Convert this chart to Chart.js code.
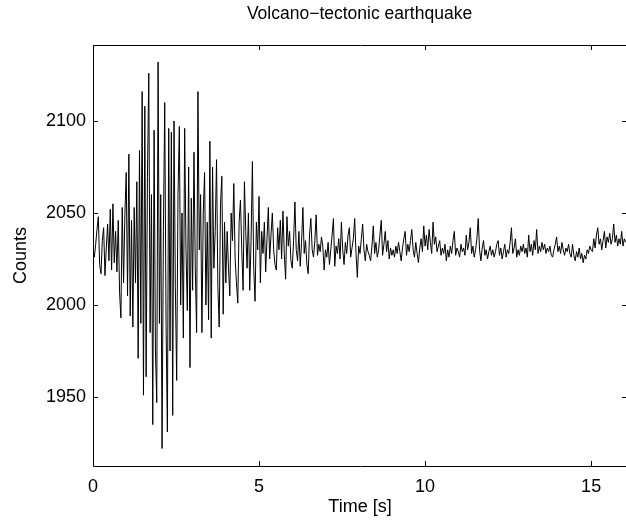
<!DOCTYPE html>
<html>
<head>
<meta charset="utf-8">
<script src="https://cdn.jsdelivr.net/npm/chart.js@4.4.1/dist/chart.umd.min.js"></script>
<style>
html, body { margin: 0; padding: 0; background: #fff; overflow: hidden; }
#wrap { position: relative; width: 627px; height: 520px; }
</style>
</head>
<body>
<div id="wrap"><canvas id="quakeChart"></canvas></div>
<script>
const titleText = 'Volcano\u2212tectonic earthquake'
const xLabel = 'Time [s]'
const yLabel = 'Counts'
const sampleRate = 25 // samples per second, first sample at t = 0

// counts, one row per second
const counts = [
  2030, 2026, 2033, 2041, 2048, 2022, 2017, 2035, 2042, 2016, 2031, 2044, 2024, 2052, 2019, 2055, 2023, 2040, 2018, 2046, 2007, 1993, 2053, 2012, 2049,
  2072, 2005, 2082, 1994, 2046, 1988, 2053, 2012, 2067, 1971, 2084, 1990, 2116, 1951, 2108, 1961, 2070, 2126, 1985, 2060, 1935, 2095, 1975, 1947, 2132, 1990,
  2060, 1922, 2040, 2110, 1990, 1931, 2096, 1975, 2094, 1940, 2100, 2010, 1959, 2060, 2097, 2000, 2050, 1982, 2096, 2030, 1997, 2075, 1966, 2058, 2008,
  2083, 2020, 1985, 2116, 2030, 2060, 1985, 2050, 2072, 2000, 2045, 1992, 2089, 1982, 2075, 2020, 2040, 2079, 2010, 1988, 2055, 2070, 1995, 2045, 2012,
  2040, 2020, 2005, 2050, 2035, 2066, 2025, 2012, 2001, 2045, 2057, 2030, 2008, 2067, 2040, 2020, 2050, 2008, 2035, 2078, 2020, 2002, 2045, 2030, 2059,
  2012, 2040, 2028, 2045, 2018, 2036, 2053, 2025, 2038, 2050, 2030, 2022, 2019, 2042, 2030, 2046, 2025, 2051, 2028, 2014, 2048, 2032, 2040, 2024, 2020,
  2035, 2056, 2030, 2024, 2040, 2021, 2034, 2053, 2028, 2035, 2022, 2017, 2038, 2047, 2030, 2026, 2035, 2049, 2027, 2033, 2029, 2037, 2032, 2019, 2030,
  2026, 2034, 2022, 2030, 2038, 2047, 2021, 2032, 2028, 2036, 2025, 2045, 2030, 2022, 2034, 2028, 2038, 2042, 2026, 2031, 2036, 2047, 2028, 2015, 2032,
  2028, 2036, 2044, 2030, 2024, 2033, 2029, 2027, 2024, 2032, 2043, 2028, 2034, 2026, 2030, 2038, 2046, 2027, 2033, 2040, 2029, 2035, 2025, 2031, 2027,
  2030, 2026, 2032, 2028, 2034, 2029, 2024, 2031, 2036, 2040, 2027, 2033, 2029, 2035, 2041, 2030, 2026, 2034, 2028, 2023, 2031, 2036, 2029, 2043, 2032,
  2038, 2030, 2041, 2034, 2028, 2045, 2033, 2037, 2029, 2032, 2035, 2027, 2031, 2028, 2033, 2024, 2030, 2026, 2032, 2028, 2035, 2040, 2027, 2031, 2029,
  2026, 2033, 2029, 2031, 2027, 2038, 2030, 2034, 2042, 2028, 2032, 2026, 2030, 2036, 2047, 2030, 2024, 2031, 2035, 2027, 2030, 2025, 2029, 2032, 2027,
  2030, 2026, 2029, 2033, 2035, 2027, 2031, 2025, 2029, 2033, 2026, 2030, 2028, 2034, 2042, 2028, 2031, 2036, 2026, 2030, 2027, 2032, 2029, 2033, 2028,
  2031, 2026, 2038, 2029, 2033, 2027, 2035, 2030, 2041, 2028, 2032, 2029, 2034, 2030, 2033, 2028, 2031, 2029, 2032, 2027, 2026, 2030, 2033, 2037, 2029,
  2032, 2028, 2034, 2030, 2027, 2031, 2029, 2033, 2028, 2026, 2033, 2027, 2024, 2029, 2026, 2031, 2025, 2028, 2023, 2027, 2025, 2030, 2028, 2032, 2030,
  2029, 2036, 2031, 2038, 2042, 2033, 2036, 2030, 2035, 2040, 2031, 2037, 2034, 2039, 2033, 2036, 2044, 2034, 2038, 2032, 2036, 2033, 2040, 2032, 2036,
  2034
]

const xTicks = [0, 5, 10, 15]
const yTicks = [1950, 2000, 2050, 2100]
const xRange = [0, 16.08]
const yRange = [1912.5, 2141.3]

const points = counts.map((c, i) => ({ x: i / sampleRate, y: c }))

const fontFamily = '"Liberation Sans", Arial, Helvetica, sans-serif'

// MATLAB style box with inward ticks, plus the title over the axes
const axesBox = {
  id: 'axesBox',
  afterDraw(chart) {
    const { ctx, chartArea: a, scales } = chart
    const len = 5
    ctx.save()
    ctx.strokeStyle = '#000'
    ctx.lineWidth = 1
    ctx.beginPath()
    ctx.rect(Math.round(a.left) + 0.5, Math.round(a.top) + 0.5, Math.round(a.right - a.left), Math.round(a.bottom - a.top))
    xTicks.forEach(v => {
      const px = Math.round(scales.x.getPixelForValue(v)) + 0.5
      ctx.moveTo(px, a.bottom); ctx.lineTo(px, a.bottom - len)
      ctx.moveTo(px, a.top); ctx.lineTo(px, a.top + len)
    })
    yTicks.forEach(v => {
      const py = Math.round(scales.y.getPixelForValue(v)) + 0.5
      ctx.moveTo(a.left, py); ctx.lineTo(a.left + len, py)
      ctx.moveTo(a.right, py); ctx.lineTo(a.right - len, py)
    })
    ctx.stroke()

    ctx.fillStyle = '#000'
    ctx.font = '17.5px ' + fontFamily
    ctx.textAlign = 'center'
    ctx.textBaseline = 'middle'
    ctx.fillText(titleText, (a.left + 626) / 2, 14)
    ctx.restore()
  }
}

new Chart(document.getElementById('quakeChart'), {
  type: 'line',
  data: {
    datasets: [{
      data: points,
      borderColor: '#000',
      borderWidth: 1,
      pointRadius: 0,
      tension: 0,
      fill: false
    }]
  },
  options: {
    responsive: true,
    maintainAspectRatio: false,
    animation: false,
    events: [],
    layout: { padding: { top: 45, right: 0, left: 0, bottom: 0 } },
    plugins: { legend: { display: false }, tooltip: { enabled: false }, title: { display: false } },
    scales: {
      x: {
        type: 'linear',
        min: xRange[0],
        max: xRange[1],
        afterBuildTicks: s => { s.ticks = xTicks.map(v => ({ value: v })) },
        afterFit: s => { s.height = 54 },
        grid: { display: false, drawTicks: false },
        border: { display: false },
        ticks: { color: '#000', font: { family: fontFamily, size: 18 }, padding: 10, maxRotation: 0, callback: v => String(v) },
        title: { display: true, text: xLabel, color: '#000', font: { family: fontFamily, size: 18 }, padding: { top: 0, bottom: 2 } }
      },
      y: {
        type: 'linear',
        min: yRange[0],
        max: yRange[1],
        afterBuildTicks: s => { s.ticks = yTicks.map(v => ({ value: v })) },
        afterFit: s => { s.width = 93 },
        grid: { display: false, drawTicks: false },
        border: { display: false },
        ticks: { color: '#000', font: { family: fontFamily, size: 18 }, padding: 7, callback: v => String(v) },
        title: { display: true, text: yLabel, color: '#000', font: { family: fontFamily, size: 18 }, padding: { top: 10, bottom: 0 } }
      }
    }
  },
  plugins: [axesBox]
})
</script>
</body>
</html>
